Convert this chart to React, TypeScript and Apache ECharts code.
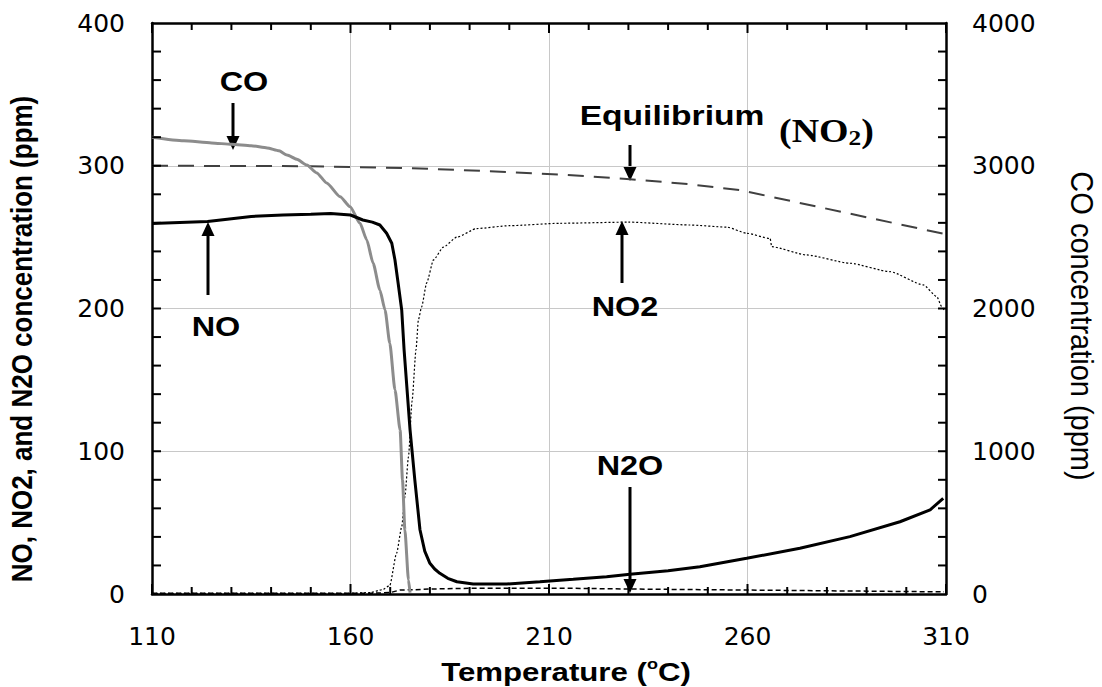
import { useEffect, useRef } from "react";
import * as echarts from "echarts";

// Temperature axis (°C) and concentration axes
const tempMin = 110;
const tempMax = 310;
const tempStep = 50;
const ppmMax = 400;
const ppmStep = 100;
const coMax = 4000;
const coStep = 1000;

// Tick marks: temperature every 10 °C (labelled every 50), concentration every 20 ppm
const tempTicks = [110, 120, 130, 140, 150, 160, 170, 180, 190, 200, 210, 220, 230, 240, 250, 260, 270, 280, 290, 300, 310];
const tempMajorTicks = [110, 160, 210, 260, 310];
const ppmTicks = [20, 40, 60, 80, 100, 120, 140, 160, 180, 200, 220, 240, 260, 280, 300, 320, 340, 360, 380];

// NO (ppm)
const noTemp = [110, 124, 135, 143, 150, 155, 160, 163.1, 165.5, 167.4, 169.1, 170.4, 171.2, 172, 172.9, 173.5, 175, 176.2, 177.5, 178.7, 180, 181.2, 182.5, 184.5, 186.8, 190.9, 199.3, 207.7, 216.1, 224.5, 230.4, 240, 248, 259.8, 273.2, 285.8, 298.4, 306, 309.3];
const noPpm = [259.5, 261, 264.5, 265.5, 266, 266.5, 265.5, 262, 260.5, 258.5, 252.7, 245.7, 234, 217.7, 199, 171, 115, 80, 45, 30, 21.5, 17.5, 14.5, 11, 8.6, 7, 7, 8.6, 10.3, 12.1, 13.8, 16.3, 19.1, 25, 32, 40.2, 50.6, 59, 67];

// CO (ppm, right axis)
const coTemp = [110, 118, 125, 130, 135, 139, 142, 144, 146.5, 149, 151.5, 154, 157.4, 159.9, 162.4, 164.1, 165.7, 167.4, 168.7, 169.9, 171.2, 172.5, 173.1, 173.7, 174.6, 175];
const coPpm = [3200, 3175, 3160, 3150, 3140, 3125, 3105, 3075, 3045, 3005, 2950, 2880, 2783, 2713, 2597, 2480, 2317, 2130, 1990, 1756, 1430, 1149, 799, 448, 98, 10];

// NO2 (ppm)
const no2Temp = [110, 160, 165, 168, 169.9, 171.6, 172.9, 173.7, 174.6, 175.5, 176.5, 177.1, 177.9, 179.2, 180.9, 183.4, 186.8, 191.8, 200, 212.8, 230, 245.5, 254.8, 259.8, 265.7, 266.1, 274.9, 285.8, 295.9, 304.3, 307.7, 308.9, 309.5];
const no2Ppm = [0.5, 0.5, 1, 3, 6, 28.5, 47, 68, 96, 135, 171, 192, 201, 218, 234, 243, 250, 256, 258, 259.7, 260.5, 258.5, 257, 252.7, 249, 243.3, 237.5, 231.7, 225.8, 216.5, 208.3, 201.3, 199];

// N2O (ppm)
const n2oTemp = [110, 165, 170, 172.5, 176, 180, 190, 200, 215, 230, 250, 270, 290, 309.5];
const n2oPpm = [0.5, 0.5, 1, 2.8, 3, 3.5, 4, 4, 4, 3.5, 3, 2.5, 2, 1.5];

// Equilibrium NO2 (ppm)
const eqTemp = [110, 150, 175, 192.6, 212.8, 229.6, 245.5, 258, 310];
const eqPpm = [300, 299.7, 298.3, 296.5, 293.8, 290.8, 287, 283, 252];

const pairs = (t: number[], v: number[]) => t.map((x, i) => [x, v[i]]);

const SANS = '"Liberation Sans", Arial, sans-serif';
const SERIF = '"Liberation Serif", "Times New Roman", serif';
const TICK_FONT = '"DejaVu Sans", sans-serif';

// Plot box in pixels
const GRID = { left: 152, right: 156, top: 23, bottom: 93 };
const WIDTH = 1102;
const HEIGHT = 687;
const PX_LEFT = GRID.left;
const PX_RIGHT = WIDTH - GRID.right;
const PX_TOP = GRID.top;
const PX_BOTTOM = HEIGHT - GRID.bottom;
const tempToX = (t: number) => PX_LEFT + ((t - tempMin) / (tempMax - tempMin)) * (PX_RIGHT - PX_LEFT);
const ppmToY = (v: number) => PX_BOTTOM - (v / ppmMax) * (PX_BOTTOM - PX_TOP);

function label(text: string, x: number, y: number, size: number) {
  return {
    type: "text",
    x,
    y,
    scaleX: 1.2,
    z: 50,
    style: {
      text,
      x: 0,
      y: 0,
      align: "center",
      verticalAlign: "middle",
      fill: "#000",
      fontFamily: SANS,
      fontWeight: "bold",
      fontSize: size,
    },
  };
}

function arrow(x: number, yFrom: number, yTip: number) {
  const dir = yTip > yFrom ? 1 : -1;
  const head = 14;
  const half = 6.5;
  const base = yTip - dir * head;
  return {
    type: "group",
    z: 50,
    children: [
      {
        type: "line",
        shape: { x1: x, y1: yFrom, x2: x, y2: base },
        style: { stroke: "#000", lineWidth: 3 },
      },
      {
        type: "polygon",
        shape: { points: [[x, yTip], [x - half, base], [x + half, base]] },
        style: { fill: "#000" },
      },
    ],
  };
}

// Inward tick marks drawn as thin polygons on all four sides of the plot box
function tickMarks() {
  const out: any[] = [];
  const bar = (x: number, y: number, w: number, h: number) =>
    out.push({
      type: "polygon",
      z: 45,
      silent: true,
      shape: { points: [[x, y], [x + w, y], [x + w, y + h], [x, y + h]] },
      style: { fill: "#000" },
    });
  tempTicks.forEach((t) => {
    const len = tempMajorTicks.includes(t) ? 10 : 7;
    const x = tempToX(t);
    bar(x - 1, PX_BOTTOM - len, 2, len);
    bar(x - 1, PX_TOP, 2, len);
  });
  ppmTicks.forEach((v) => {
    const y = ppmToY(v);
    bar(PX_LEFT, y - 1, 9, 2);
    bar(PX_RIGHT - 8, y - 1, 8, 2);
  });
  return out;
}

const annotations = [
  label("CO", 244, 81, 27),
  arrow(233, 103, 150),
  label("NO", 216, 326, 27),
  arrow(208, 295, 222),
  label("Equilibrium", 672, 115, 28),
  arrow(630, 145, 181),
  {
    type: "text",
    x: 779,
    y: 131,
    scaleX: 1.15,
    z: 50,
    style: {
      text: "{b|(NO}{s|2}{b|)}",
      x: 0,
      y: 0,
      align: "left",
      verticalAlign: "middle",
      fill: "#000",
      rich: {
        b: { fontFamily: SERIF, fontWeight: "bold", fontSize: 33, lineHeight: 36, verticalAlign: "middle" },
        s: { fontFamily: SERIF, fontWeight: "bold", fontSize: 22, lineHeight: 14, verticalAlign: "bottom" },
      },
    },
  },
  label("NO2", 625, 306, 27),
  arrow(622, 283, 221),
  label("N2O", 630, 465, 27),
  arrow(630, 487, 593),
  {
    type: "text",
    x: 566,
    y: 672,
    scaleX: 1.2,
    z: 50,
    style: {
      text: "{b|Temperature (}{s|o}{b|C)}",
      x: 0,
      y: 0,
      align: "center",
      verticalAlign: "middle",
      fill: "#000",
      rich: {
        b: { fontFamily: SANS, fontWeight: "bold", fontSize: 26, lineHeight: 30, verticalAlign: "middle" },
        s: { fontFamily: SANS, fontWeight: "bold", fontSize: 15, lineHeight: 18, verticalAlign: "top" },
      },
    },
  },
  {
    type: "text",
    x: 22,
    y: 339,
    rotation: Math.PI / 2,
    scaleY: 1.15,
    z: 50,
    style: {
      text: "NO, NO2, and N2O concentration (ppm)",
      x: 0,
      y: 0,
      align: "center",
      verticalAlign: "middle",
      fill: "#000",
      fontFamily: SANS,
      fontWeight: "bold",
      fontSize: 26,
    },
  },
  {
    type: "text",
    x: 1083,
    y: 326,
    rotation: -Math.PI / 2,
    scaleY: 1.1,
    z: 50,
    style: {
      text: "CO concentration (ppm)",
      x: 0,
      y: 0,
      align: "center",
      verticalAlign: "middle",
      fill: "#000",
      fontFamily: SANS,
      fontSize: 29,
    },
  },
];

const axisLineStyle = () => ({ show: true, onZero: false, lineStyle: { color: "#000", width: 2.5 } });
const labelStyle = (margin: number) => ({
  show: true,
  color: "#000",
  fontSize: 25,
  fontFamily: TICK_FONT,
  margin,
  formatter: (v: number) => String(v),
});

export default function App() {
  const ref = useRef<HTMLDivElement>(null);

  useEffect(() => {
    if (!ref.current) return;
    const chart = echarts.init(ref.current, undefined, { renderer: "svg" });

    chart.setOption({
      animation: false,
      backgroundColor: "#fff",
      grid: { ...GRID },
      xAxis: [
        {
          type: "value",
          position: "bottom",
          min: tempMin,
          max: tempMax,
          interval: tempStep,
          axisLine: axisLineStyle(),
          axisTick: { show: false },
          splitLine: { show: true, lineStyle: { color: "#c8c8c8", width: 1, type: "solid" } },
          axisLabel: labelStyle(30),
        },
        {
          type: "value",
          position: "top",
          min: tempMin,
          max: tempMax,
          interval: tempStep,
          axisLine: axisLineStyle(),
          axisTick: { show: false },
          splitLine: { show: false },
          axisLabel: { show: false },
        },
      ],
      yAxis: [
        {
          type: "value",
          position: "left",
          min: 0,
          max: ppmMax,
          interval: ppmStep,
          axisLine: axisLineStyle(),
          axisTick: { show: false },
          splitLine: { show: true, lineStyle: { color: "#c8c8c8", width: 1, type: "solid" } },
          axisLabel: labelStyle(27),
        },
        {
          type: "value",
          position: "right",
          min: 0,
          max: coMax,
          interval: coStep,
          axisLine: axisLineStyle(),
          axisTick: { show: false },
          splitLine: { show: false },
          axisLabel: labelStyle(26),
        },
      ],
      series: [
        {
          name: "Equilibrium",
          type: "line",
          showSymbol: false,
          data: pairs(eqTemp, eqPpm),
          lineStyle: { color: "#404040", width: 2, type: [16, 10] },
        },
        {
          name: "N2O",
          type: "line",
          showSymbol: false,
          data: pairs(n2oTemp, n2oPpm),
          lineStyle: { color: "#000", width: 1.5, type: [5, 3] },
        },
        {
          name: "NO2",
          type: "line",
          showSymbol: false,
          smooth: 0.2,
          smoothMonotone: "x",
          data: pairs(no2Temp, no2Ppm),
          lineStyle: { color: "#000", width: 1.2, type: [2, 2] },
        },
        {
          name: "CO",
          type: "line",
          yAxisIndex: 1,
          showSymbol: false,
          smooth: 0.2,
          smoothMonotone: "x",
          data: pairs(coTemp, coPpm),
          lineStyle: { color: "#8c8c8c", width: 3 },
        },
        {
          name: "NO",
          type: "line",
          showSymbol: false,
          data: pairs(noTemp, noPpm),
          lineStyle: { color: "#000", width: 3 },
        },
      ],
      graphic: [...annotations, ...tickMarks()],
    });

    return () => chart.dispose();
  }, []);

  return (
    <div
      ref={ref}
      style={{ position: "fixed", left: 0, top: 0, width: WIDTH, height: HEIGHT, background: "#fff" }}
    />
  );
}
